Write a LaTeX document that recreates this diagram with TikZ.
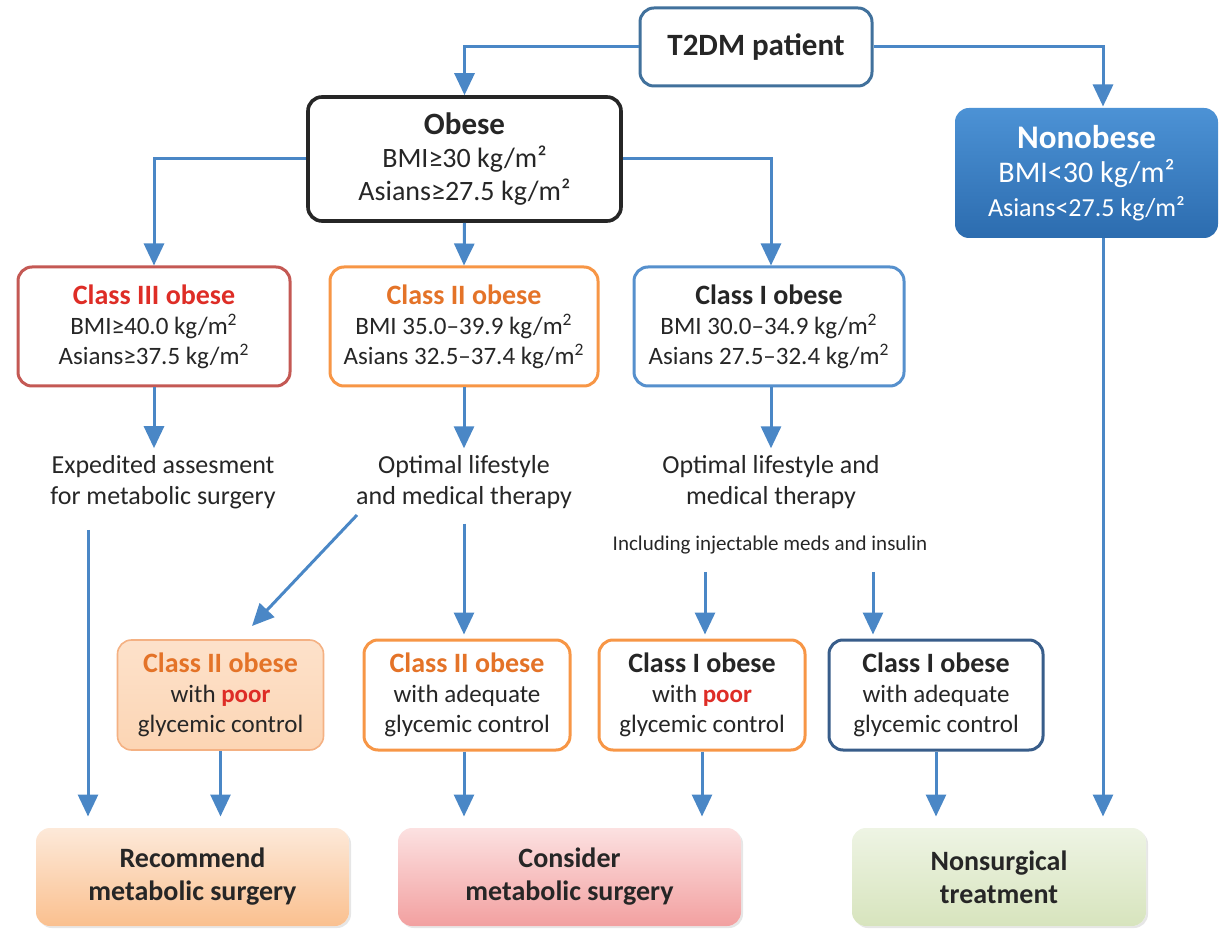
\documentclass[tikz,border=0pt]{standalone}
\usepackage{fontspec}
\setmainfont{Carlito}
\usetikzlibrary{arrows.meta,shadows}

\definecolor{arrowblue}{RGB}{74,135,198}
\definecolor{textgray}{RGB}{38,38,38}
\definecolor{t2dmblue}{RGB}{65,113,156}
\definecolor{c3red}{RGB}{196,89,84}
\definecolor{titlered}{RGB}{222,45,38}
\definecolor{orangeline}{RGB}{247,150,70}
\definecolor{titleorange}{RGB}{228,115,40}
\definecolor{c1blue}{RGB}{86,144,205}
\definecolor{darkblue}{RGB}{56,93,138}
\definecolor{poorfill}{RGB}{252,213,180}
\definecolor{poorline}{RGB}{244,177,131}
\definecolor{rectop}{RGB}{253,233,217}
\definecolor{recbot}{RGB}{250,192,143}
\definecolor{contop}{RGB}{252,225,225}
\definecolor{conbot}{RGB}{242,160,160}
\definecolor{nontop}{RGB}{238,244,228}
\definecolor{nonbot}{RGB}{215,228,189}
\definecolor{nonobtop}{RGB}{76,146,213}
\definecolor{nonobbot}{RGB}{44,108,175}

\tikzset{
  box/.style={draw, rounded corners=7pt, line width=1.5pt, fill=white, align=center,
    inner sep=2pt, text=textgray},
  classbox/.style={box, minimum height=59.5pt, font=\fontsize{12.5}{15}\selectfont},
  subbox/.style={box, minimum width=103pt, minimum height=55pt, font=\fontsize{12.5}{15}\selectfont},
  endbox/.style={box, draw=none, minimum height=49pt, font=\fontsize{14}{16.5}\selectfont\bfseries,
    drop shadow={opacity=0.2, shadow xshift=1pt, shadow yshift=-1pt}},
  plain/.style={align=center, text=textgray, font=\fontsize{13}{15.5}\selectfont},
  arr/.style={draw=arrowblue, line width=1.5pt, -{Triangle[length=11pt,width=10pt]}},
}
\newcommand{\poorword}{{\bfseries\color{titlered}poor}}

\begin{document}
\begin{tikzpicture}[x=0.5pt,y=-0.5pt]
    \useasboundingbox (0,0) rectangle (1230,929);

    % Top level
    \node[box, draw=t2dmblue, minimum width=116pt, minimum height=39pt,
      font=\fontsize{15.5}{18}\selectfont\bfseries] (t2dm) at (756,47) {T2DM patient};

    \node[box, draw=black!85, line width=1.8pt, minimum width=156.5pt, minimum height=62pt,
      font=\fontsize{14}{16.5}\selectfont] (obese) at (464.5,159)
      {{\bfseries\fontsize{15.5}{16.5}\selectfont Obese}\\BMI≥30 kg/m²\\Asians≥27.5 kg/m²};

    \node[box, draw=none, top color=nonobtop, bottom color=nonobbot, text=white,
      minimum width=131.5pt, minimum height=65pt, font=\fontsize{15}{17}\selectfont] (nonob) at (1086.5,173)
      {{\bfseries\fontsize{16.5}{17}\selectfont Nonobese}\\BMI<30 kg/m²\\{\fontsize{13}{15}\selectfont Asians<27.5 kg/m²}};

    % Obesity classes
    \node[classbox, draw=c3red, minimum width=136pt] (c3) at (154,326.5)
      {{\bfseries\fontsize{14}{15}\selectfont\color{titlered}Class III obese}\\BMI≥40.0 kg/m\textsuperscript{2}\\Asians≥37.5 kg/m\textsuperscript{2}};
    \node[classbox, draw=orangeline, minimum width=134pt] (c2) at (464,326.5)
      {{\bfseries\fontsize{14}{15}\selectfont\color{titleorange}Class II obese}\\BMI 35.0–39.9 kg/m\textsuperscript{2}\\Asians 32.5–37.4 kg/m\textsuperscript{2}};
    \node[classbox, draw=c1blue, minimum width=135pt] (c1) at (769,326.5)
      {{\bfseries\fontsize{14}{15}\selectfont Class I obese}\\BMI 30.0–34.9 kg/m\textsuperscript{2}\\Asians 27.5–32.4 kg/m\textsuperscript{2}};

    % Plans
    \node[plain] (expd) at (163,482) {Expedited assesment\\for metabolic surgery};
    \node[plain] (opt2) at (464,482) {Optimal lifestyle\\and medical therapy};
    \node[plain] (opt1) at (771,482) {Optimal lifestyle and\\medical therapy};
    \node[plain, font=\fontsize{10.5}{12}\selectfont] (incl) at (770,545) {Including injectable meds and insulin};

    % Glycemic control
    \node[subbox, draw=poorline, line width=0.8pt, top color=poorfill!70, bottom color=poorfill] (c2p) at (220.5,695)
      {{\bfseries\fontsize{14}{15}\selectfont\color{titleorange}Class II obese}\\with \poorword\\glycemic control};
    \node[subbox, draw=orangeline] (c2a) at (467,695)
      {{\bfseries\fontsize{14}{15}\selectfont\color{titleorange}Class II obese}\\with adequate\\glycemic control};
    \node[subbox, draw=orangeline] (c1p) at (702,695)
      {{\bfseries\fontsize{14}{15}\selectfont Class I obese}\\with \poorword\\glycemic control};
    \node[subbox, draw=darkblue, minimum width=107pt] (c1a) at (936,695)
      {{\bfseries\fontsize{14}{15}\selectfont Class I obese}\\with adequate\\glycemic control};

    % Outcomes
    \node[endbox, top color=rectop, bottom color=recbot, minimum width=156.5pt] (rec) at (192.5,877)
      {Recommend\\metabolic surgery};
    \node[endbox, top color=contop, bottom color=conbot, minimum width=171.5pt] (con) at (569.5,877)
      {Consider\\metabolic surgery};
    \node[endbox, top color=nontop, bottom color=nonbot, minimum width=147pt] (nons) at (999,877)
      {Nonsurgical\\treatment};

    % Free ends of some arrows
    \coordinate (e1) at (88,530);
    \coordinate (o2a) at (357,515);
    \coordinate (o2b) at (252,626);
    \coordinate (i1) at (705,572);
    \coordinate (i2) at (873,572);
    \coordinate (n1) at (1103,238);

    % Arrows
    \draw[arr] (t2dm.west) -| (obese.north);
    \draw[arr] (t2dm.east) -| ([xshift=8.25pt]nonob.north);
    \draw[arr] (obese.west) -| (c3.north);
    \draw[arr] (obese.south) -- (c2.north);
    \draw[arr] (obese.east) -| ([xshift=1pt]c1.north);
    \draw[arr] (c3.south) -- (c3.south |- expd.north);
    \draw[arr] (c2.south) -- (opt2.north);
    \draw[arr] ([xshift=1pt]c1.south) -- ([xshift=1pt]c1.south |- opt1.north);
    \draw[arr, shorten >=5pt] (e1) -- (e1 |- rec.north);
    \draw[arr] (o2a) -- (o2b);
    \draw[arr, shorten <=4pt, shorten >=2pt] (opt2.south) -- (opt2.south |- c2a.north);
    \draw[arr, shorten >=2pt] (i1) -- (i1 |- c1p.north);
    \draw[arr, shorten >=2pt] (i2) -- (i2 |- c1a.north);
    \draw[arr, shorten >=5pt] (c2p.south) -- (c2p.south |- rec.north);
    \draw[arr, shorten >=5pt] ([xshift=-1.5pt]c2a.south) -- ([xshift=-1.5pt]c2a.south |- con.north);
    \draw[arr, shorten >=5pt] (c1p.south) -- (c1p.south |- con.north);
    \draw[arr, shorten >=5pt] (c1a.south) -- (c1a.south |- nons.north);
    \draw[arr, shorten >=5pt] (n1) -- (n1 |- nons.north);
\end{tikzpicture}
\end{document}
